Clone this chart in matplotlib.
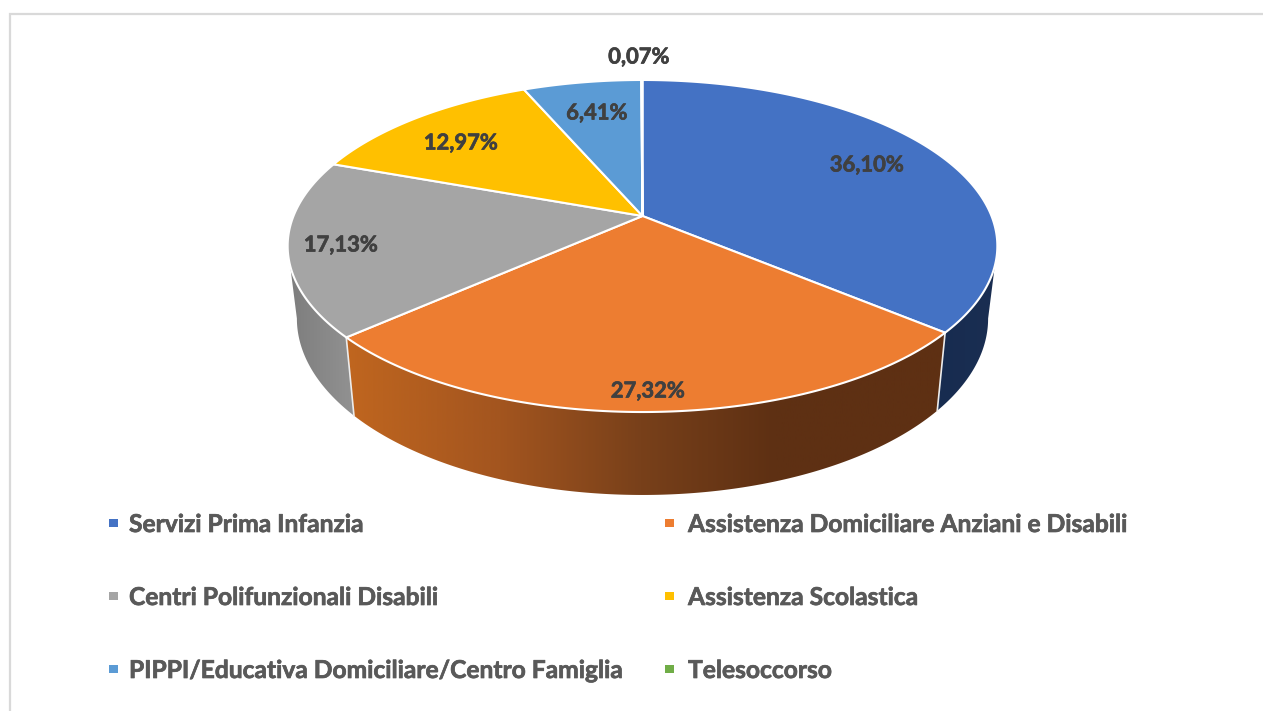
import numpy as np
import matplotlib
matplotlib.use("Agg")
import matplotlib.pyplot as plt
import matplotlib.patheffects as pe
from matplotlib.colors import LinearSegmentedColormap
from matplotlib.patches import Polygon, Rectangle

plt.rcParams['font.family'] = ['Lato', 'DejaVu Sans']

categories = ["Servizi Prima Infanzia", "Assistenza Domiciliare Anziani e Disabili",
              "Centri Polifunzionali Disabili", "Assistenza Scolastica",
              "PIPPI/Educativa Domiciliare/Centro Famiglia", "Telesoccorso"]
values = [36.10, 27.32, 17.13, 12.97, 6.41, 0.07]
colors = ["#4472C4", "#ED7D31", "#A5A5A5", "#FFC000", "#5B9BD5", "#70AD47"]

# where the percentage labels sit, in pixels
label_pos = [(867, 165), (648, 391), (341, 245), (461, 143), (597, 113), (639, 57)]
legend_pos = [(109, 523), (665, 523), (109, 596), (665, 596), (109, 669), (665, 669)]
legend_text_x = [129, 688, 129, 688, 129, 688]

# perspective of the tilted disc
CX, CY = 642.5, 216
A, B, K = 349.0, 160.6, 0.1807


def top_edge(theta):
    u, v = np.sin(theta), np.cos(theta)
    w = 1 + K * v
    return CX + A * u / w, CY - B * v / w


def bottom_edge(theta):
    x, y = top_edge(theta)
    return CX + 0.974 * (x - CX), CY + 1.063 * (y - CY) + 70.6


fig = plt.figure(figsize=(12.63, 7.11), dpi=100)
ax = fig.add_axes([0, 0, 1, 1])
ax.set_xlim(0, 1263)
ax.set_ylim(711, 0)
ax.axis("off")

# chart frame, runs off the right and bottom of the picture
ax.plot([9.5, 9.5, 1263], [711, 14.3, 14.3], color="#d9d9d9", lw=1.6, solid_joinstyle="miter")

edges = np.radians(np.cumsum([0] + values) * 3.6)
# angle where the disc is widest, the wall outline leaves the disc here
side_start = np.arccos(-K)


def side_wall(i, cmap, x0, x1):
    t0 = max(edges[i], side_start)
    t1 = min(edges[i + 1], 2 * np.pi - side_start)
    theta = np.linspace(t0, t1, 200)
    xt, yt = top_edge(theta)
    xb, yb = bottom_edge(theta)
    poly = Polygon(np.r_[np.c_[xt, yt], np.c_[xb, yb][::-1]], closed=True,
                   transform=ax.transData, fc="none", ec="none")
    ax.add_patch(poly)
    im = ax.imshow(np.linspace(0, 1, 256)[None, :], cmap=cmap, extent=(x0, x1, 520, 100),
                   aspect="auto", zorder=1)
    im.set_clip_path(poly)


blue_side = LinearSegmentedColormap.from_list("b", ["#172C50", "#1A2E52"])
orange_side = LinearSegmentedColormap.from_list(
    "o", [(0, "#C0661F"), (0.256, "#A3551F"), (0.49, "#78401A"), (0.71, "#5E3013"), (1, "#5E3013")])
grey_side = LinearSegmentedColormap.from_list("g", ["#7C7C7C", "#929292"])
side_wall(0, blue_side, 930, 1000)
side_wall(1, orange_side, 345, 950)
side_wall(2, grey_side, 285, 355)

# white seams where side walls meet
for i in (0, 1):
    x0, y0 = top_edge(edges[i + 1])
    x1, y1 = bottom_edge(edges[i + 1])
    ax.plot([x0, x1], [y0, y1], color="#ececec", lw=1.2, zorder=2)

# top of the disc
for i, c in enumerate(colors):
    theta = np.linspace(edges[i], edges[i + 1], 200)
    xt, yt = top_edge(theta)
    pts = np.r_[[(CX, CY)], np.c_[xt, yt]]
    ax.add_patch(Polygon(pts, closed=True, fc=c, ec="white", lw=1.5, joinstyle="round", zorder=3))

for v, (x, y) in zip(values, label_pos):
    t = ax.text(x, y, f"{v:.2f}%".replace(".", ","), ha="center", va="center",
                fontsize=15.8, fontweight="bold", color="#404040", zorder=4)
    t.set_path_effects([pe.withStroke(linewidth=0.5, foreground="#404040")])

for name, c, (x, y), tx in zip(categories, colors, legend_pos, legend_text_x):
    ax.add_patch(Rectangle((x, y - 4.5), 8.5, 8.5, fc=c, ec="none"))
    t = ax.text(tx, y + 1.5, name, ha="left", va="center", fontsize=17.7,
                fontweight="bold", color="#595959")
    t.set_path_effects([pe.withStroke(linewidth=0.5, foreground="#595959")])

ax.set_xlim(0, 1263)
ax.set_ylim(711, 0)
fig.savefig("out.png", dpi=100)
